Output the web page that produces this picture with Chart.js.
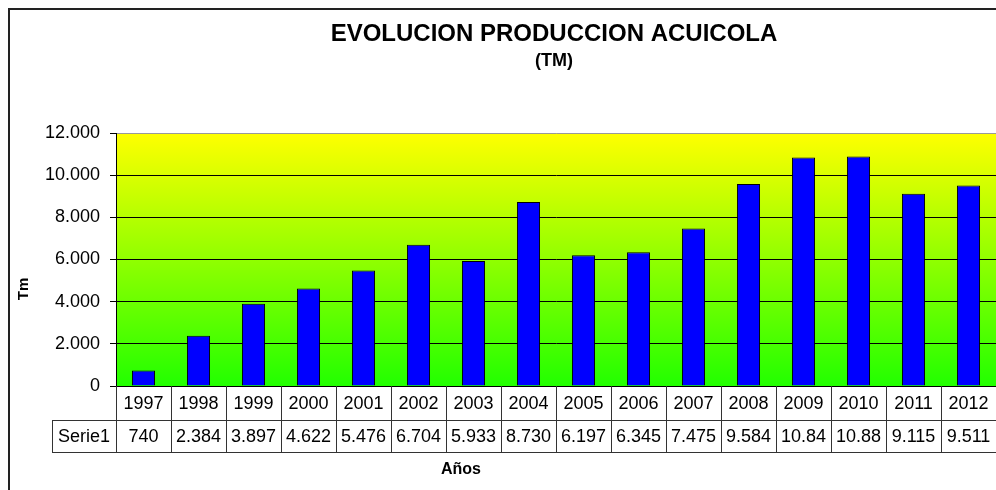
<!DOCTYPE html>
<html>
<head>
<meta charset="utf-8">
<script src="https://cdn.jsdelivr.net/npm/chart.js@4"></script>
<style>
  body { margin: 0; background: #fff; }
</style>
</head>
<body>
<canvas id="prodChart" width="996" height="490"></canvas>
<script>
// datos
const years = ['1997', '1998', '1999', '2000', '2001', '2002', '2003', '2004',
               '2005', '2006', '2007', '2008', '2009', '2010', '2011', '2012'];
const produccion = [740, 2384, 3897, 4622, 5476, 6704, 5933, 8730,
                    6197, 6345, 7475, 9584, 10840, 10880, 9115, 9511];
const yTicks = [0, 2000, 4000, 6000, 8000, 10000, 12000];
const serieName = 'Serie1';

const FONT = '"Liberation Sans", Arial, sans-serif';

function fmt(v) {
    return String(v).replace(/\B(?=(\d{3})+(?!\d))/g, '.');
}

// fondo degradado amarillo -> verde
const plotBackground = {
    id: 'plotBackground',
    beforeDraw(chart) {
        const { ctx, chartArea: a } = chart;
        const g = ctx.createLinearGradient(0, a.top, 0, a.bottom);
        g.addColorStop(0, '#ffff00');
        g.addColorStop(1, '#22ff00');
        ctx.save();
        ctx.fillStyle = g;
        ctx.fillRect(a.left, a.top, a.right - a.left, a.bottom - a.top);
        ctx.restore();
    }
};

// titulos, marco y tabla de datos
const extras = {
    id: 'extras',
    afterDraw(chart) {
        const ctx = chart.ctx;
        const x = chart.scales.x;
        const a = chart.chartArea;
        ctx.save();

        // marco exterior
        ctx.strokeStyle = '#222';
        ctx.lineWidth = 2;
        ctx.beginPath();
        ctx.moveTo(9, 490);
        ctx.lineTo(9, 9);
        ctx.lineTo(996, 9);
        ctx.stroke();

        ctx.fillStyle = '#000';
        ctx.textAlign = 'center';
        ctx.textBaseline = 'alphabetic';
        ctx.font = 'bold 24px ' + FONT;
        ctx.fillText('EVOLUCION PRODUCCION ACUICOLA', 554, 41);
        ctx.font = 'bold 18px ' + FONT;
        ctx.fillText('(TM)', 554, 66);

        // titulo eje y
        ctx.save();
        ctx.translate(28, 289);
        ctx.rotate(-Math.PI / 2);
        ctx.font = 'bold 15px ' + FONT;
        ctx.fillText('Tm', 0, 0);
        ctx.restore();

        // titulo eje x
        ctx.font = 'bold 16px ' + FONT;
        ctx.fillText('Años', 461, 474);

        // tabla
        const row1 = a.bottom, row2 = 420, row3 = 452;
        const w = (x.right - x.left) / years.length;
        ctx.strokeStyle = '#333';
        ctx.lineWidth = 1;
        ctx.beginPath();
        for (let i = 0; i <= years.length; i++) {
            const bx = Math.round(x.left + i * w) + 0.5;
            ctx.moveTo(bx, row1);
            ctx.lineTo(bx, row3);
        }
        ctx.moveTo(52.5, row2);
        ctx.lineTo(52.5, row3);
        ctx.moveTo(52, row2 + 0.5);
        ctx.lineTo(x.right, row2 + 0.5);
        ctx.moveTo(52, row3 + 0.5);
        ctx.lineTo(x.right, row3 + 0.5);
        ctx.stroke();

        ctx.font = '18px ' + FONT;
        ctx.textBaseline = 'middle';
        years.forEach((yr, i) => {
            const cx = x.getPixelForValue(i);
            ctx.fillText(yr, cx, (row1 + row2) / 2 + 1);
            ctx.fillText(fmt(produccion[i]).slice(0, 5), cx, (row2 + row3) / 2 + 1);
        });
        ctx.fillText(serieName, (52 + x.left) / 2, (row2 + row3) / 2 + 1);

        ctx.restore();
    }
};

new Chart(document.getElementById('prodChart'), {
    type: 'bar',
    data: {
        labels: years,
        datasets: [{
            label: serieName,
            data: produccion,
            backgroundColor: '#0000ff',
            borderColor: '#000',
            borderWidth: 1,
            barPercentage: 0.42,
            categoryPercentage: 1
        }]
    },
    options: {
        responsive: false,
        animation: false,
        layout: { padding: { left: 0, top: 133, right: 0, bottom: 104 } },
        plugins: {
            legend: { display: false },
            tooltip: { enabled: false },
            title: { display: false }
        },
        scales: {
            x: {
                display: false
            },
            y: {
                min: 0,
                max: 12000,
                afterFit(scale) { scale.width = 116; },
                afterBuildTicks(scale) {
                    scale.ticks = yTicks.map(v => ({ value: v }));
                },
                ticks: {
                    padding: 10,
                    color: '#000',
                    font: { family: FONT, size: 18 },
                    callback: v => fmt(v)
                },
                grid: {
                    color: c => (c.tick && c.tick.value === 12000) ? '#999' : '#000',
                    tickColor: '#000',
                    tickLength: 6,
                    lineWidth: 1
                },
                border: { display: true, color: '#000', width: 1 }
            }
        }
    },
    plugins: [plotBackground, extras]
});
</script>
</body>
</html>
